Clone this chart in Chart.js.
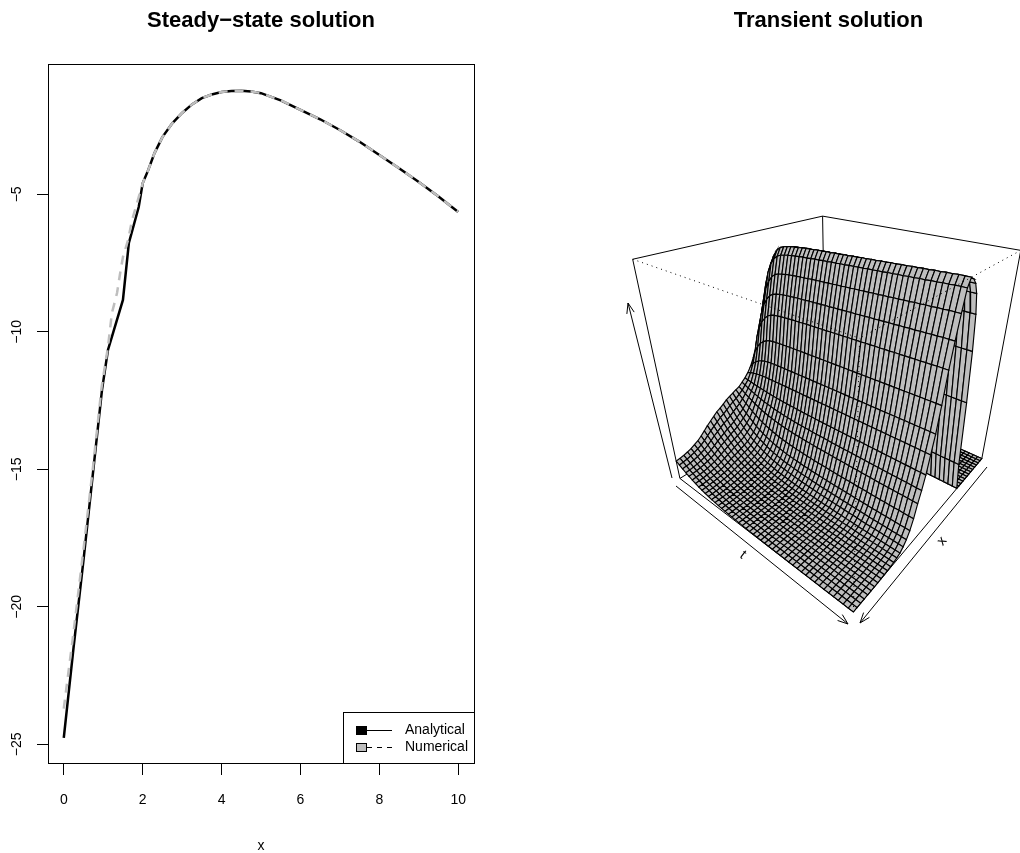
<!DOCTYPE html>
<html>
<head>
<meta charset="utf-8">
<title>Steady-state and transient solution</title>
<script src="https://cdn.jsdelivr.net/npm/chart.js@4/dist/chart.umd.min.js"></script>
<style>
    html, body { margin: 0; background: #fff; overflow: hidden; width: 1020px; height: 853px; }
    canvas { position: absolute; top: 0; }
    #chart-steady { left: 0; }
    #chart-transient { left: 620px; }
</style>
</head>
<body>
<canvas id="chart-steady" width="522" height="853"></canvas>
<canvas id="chart-transient" width="417" height="853"></canvas>
<script>
const steadyTitle = 'Steady\u2212state solution';
const transientTitle = 'Transient solution';
const legendLabels = ['Analytical', 'Numerical'];

const xTicks = [0, 2, 4, 6, 8, 10];
const yTicks = [-25, -20, -15, -10, -5];

const analyticalX = [0, 0.25, 0.5, 0.75, 0.97, 1.12, 1.25, 1.5, 1.65, 1.9, 2, 2.14, 2.3, 2.5, 2.75, 3, 3.25, 3.5, 3.75, 4, 4.25, 4.5, 4.75, 5, 5.5, 6, 6.5, 7, 7.5, 8, 8.5, 9, 9.5, 10];
const analyticalY = [-24.77, -21.46, -18.3, -15, -12.1, -10.66, -10.04, -8.84, -6.77, -5.46, -4.6, -4.12, -3.5, -2.92, -2.42, -2.04, -1.73, -1.5, -1.37, -1.28, -1.24, -1.23, -1.26, -1.32, -1.58, -1.93, -2.27, -2.66, -3.09, -3.57, -4.05, -4.55, -5.08, -5.64];
const numericalX = [0, 0.25, 0.5, 0.75, 0.96, 1.12, 1.22, 1.35, 1.43, 1.5, 1.63, 1.73, 1.88, 2, 2.14, 2.3, 2.5, 2.75, 3, 3.25, 3.5, 3.75, 4, 4.25, 4.5, 4.75, 5, 5.5, 6, 6.5, 7, 7.5, 8, 8.5, 9, 9.5, 10];
const numericalY = [-23.7, -20.9, -17.9, -14.8, -12, -10.55, -9.32, -8.59, -7.86, -7.28, -6.66, -5.94, -5.2, -4.6, -4.12, -3.5, -2.92, -2.42, -2.04, -1.73, -1.5, -1.37, -1.28, -1.24, -1.23, -1.26, -1.32, -1.58, -1.93, -2.27, -2.66, -3.09, -3.57, -4.05, -4.55, -5.08, -5.64];

const startProfile = [0, 0, 0, 0, 0, 0, 0, 0, 0, 0, 0, 0.005, 0.08, 0.45, 0.78, 0.87, 0.86, 0.82, 0.775, 0.725, 0.675, 0.63, 0.585, 0.535, 0.495, 0.46, 0.415, 0.38, 0.355, 0.335, 0.32, 0.305, 0.297, 0.288, 0.28, 0.27, 0.257, 0.245, 0.235, 0.22, 0.205, 0.19, 0.172, 0.155, 0.14, 0.13, 0.12, 0.113, 0.107, 0.103, 0.1];
const endProfile = [0, 0, 0, 0, 0, 0, 0, 0, 0, 0, 0, 0, 0, 0.002, 0.15, 0.47, 0.7, 0.85, 0.93, 0.97, 0.99, 1, 0.97, 0.89, 0.8, 0.7, 0.57, 0.46, 0.38, 0.3, 0.24, 0.19, 0.13, 0.085, 0.055, 0.035, 0.02, 0.013, 0.008, 0.005, 0.003, 0.002, 0.001, 0, 0, 0, 0, 0, 0, 0, 0];
// how far each t line has moved from the start shape to the end shape, rising part and falling part
const riseSettling = [0, 0.3, 0.5, 0.65, 0.75, 0.82, 0.86, 0.88, 0.89, 0.9, 0.905, 0.91, 0.915, 0.92, 0.92, 0.925, 0.93, 0.93, 0.935, 0.935, 0.94, 0.94, 0.945, 0.945, 0.95, 0.95, 0.955, 0.955, 0.96, 0.96, 0.965, 0.965, 0.97, 0.97, 0.975, 0.975, 0.98, 0.98, 0.985, 0.985, 0.99, 0.99, 0.995, 0.995, 1, 1, 1];
const fallSettling = [0, 0.1, 0.2, 0.3, 0.38, 0.46, 0.53, 0.6, 0.65, 0.7, 0.74, 0.78, 0.81, 0.84, 0.86, 0.88, 0.9, 0.91, 0.92, 0.93, 0.94, 0.95, 0.955, 0.96, 0.965, 0.97, 0.975, 0.98, 0.98, 0.985, 0.985, 0.99, 0.99, 0.99, 0.995, 0.995, 0.995, 1, 1, 1, 1, 1, 1, 1, 1, 1, 1];

// where the box corners land on the page: [t, x, z, pageX, pageY]
const cameraAnchors = [
    [0, 1, 0, 680, 478],
    [1, 1, 0, 853, 612],
    [1, 0, 0, 982, 459],
    [0, 1, 1, 632, 260],
    [0, 0, 1, 823, 216],
    [1, 0, 1, 1020, 250],
    [1, 1, 1, 861, 338],
];

const FONT = '"Liberation Sans", Arial, sans-serif';
const TITLE_FONT = { family: FONT, size: 22, weight: 'bold', lineHeight: 1.2 };
const TITLE_PADDING = { top: 8, bottom: 29.6 };

Chart.defaults.color = '#000';
Chart.defaults.animation = false;

function solveCamera(anchors) {
    // least squares for the 3x4 projection, last entry fixed to 1
    const rows = [];
    const rhs = [];
    anchors.forEach(([a, b, c, u, v]) => {
        rows.push([a, b, c, 1, 0, 0, 0, 0, -u * a, -u * b, -u * c]); rhs.push(u);
        rows.push([0, 0, 0, 0, a, b, c, 1, -v * a, -v * b, -v * c]); rhs.push(v);
    });
    const n = 11;
    const m = [];
    for (let i = 0; i < n; i++) {
        m[i] = [];
        for (let j = 0; j < n; j++) m[i][j] = rows.reduce((s, r) => s + r[i] * r[j], 0);
        m[i][n] = rows.reduce((s, r, k) => s + r[i] * rhs[k], 0);
    }
    for (let i = 0; i < n; i++) {
        let p = i;
        for (let k = i + 1; k < n; k++) if (Math.abs(m[k][i]) > Math.abs(m[p][i])) p = k;
        [m[i], m[p]] = [m[p], m[i]];
        for (let k = 0; k < n; k++) {
            if (k === i) continue;
            const f = m[k][i] / m[i][i];
            for (let j = i; j <= n; j++) m[k][j] -= f * m[i][j];
        }
    }
    return m.map((r, i) => r[n] / r[i]);
}

const cam = solveCamera(cameraAnchors);

function project(a, b, c) {
    const w = cam[8] * a + cam[9] * b + cam[10] * c + 1;
    return {
        x: (cam[0] * a + cam[1] * b + cam[2] * c + cam[3]) / w,
        y: (cam[4] * a + cam[5] * b + cam[6] * c + cam[7]) / w,
    };
}

function surfacePoint(i, j) {
    const from = startProfile[i];
    const to = endProfile[i];
    const w = to > from ? riseSettling[j] : fallSettling[j];
    return project(j / (riseSettling.length - 1), i / (startProfile.length - 1), from + (to - from) * w);
}

function edge(from, to, dotted) {
    return {
        data: [project(...from), project(...to)],
        showLine: true,
        pointRadius: 0,
        borderColor: '#000',
        borderWidth: 1,
        borderDash: dotted ? [1, 4] : [],
        fill: false,
    };
}

// Chart.js paints the first dataset last, so this list runs nearest to farthest
function buildTransientDatasets() {
    const front = [
        edge([0, 1, 1], [1, 1, 1], true),
        edge([1, 0, 1], [1, 1, 1], true),
        edge([1, 1, 0], [1, 1, 1], true),
        edge([0, 1, 0], [1, 1, 0]),
        edge([1, 0, 0], [1, 1, 0]),
    ];
    const cells = [];
    for (let j = 0; j < riseSettling.length - 1; j++) {
        for (let i = 0; i < startProfile.length - 1; i++) {
            const first = surfacePoint(i, j);
            cells.push({
                data: [first, surfacePoint(i + 1, j), surfacePoint(i + 1, j + 1), surfacePoint(i, j + 1), first],
                showLine: true,
                pointRadius: 0,
                borderColor: '#000',
                borderWidth: 1.15,
                backgroundColor: '#bebebe',
                fill: 'shape',
            });
        }
    }
    cells.reverse();
    const back = [
        edge([0, 1, 0], [0, 1, 1]),
        edge([0, 1, 1], [0, 0, 1]),
        edge([0, 0, 1], [1, 0, 1]),
        edge([1, 0, 1], [1, 0, 0]),
        edge([0, 0, 0], [0, 0, 1]),
        edge([0, 0, 0], [0, 1, 0]),
        edge([0, 0, 0], [1, 0, 0]),
    ];
    return [...front, ...cells, ...back];
}

const rotatedTicksPlugin = {
    id: 'rotatedTicks',
    afterDraw(chart) {
        const { ctx, scales: { y } } = chart;
        ctx.save();
        ctx.font = `14px ${FONT}`;
        ctx.fillStyle = '#000';
        ctx.textAlign = 'center';
        ctx.textBaseline = 'middle';
        yTicks.forEach(v => {
            ctx.save();
            ctx.translate(17, y.getPixelForValue(v));
            ctx.rotate(-Math.PI / 2);
            ctx.fillText(String(v).replace('-', '\u2212'), 0, 0);
            ctx.restore();
        });
        ctx.restore();
    },
};

const plotBoxPlugin = {
    id: 'plotBox',
    afterDraw(chart) {
        const { ctx, chartArea: a } = chart;
        ctx.save();
        ctx.strokeStyle = '#000';
        ctx.lineWidth = 1;
        ctx.strokeRect(a.left + 0.5, a.top + 0.5, a.right - a.left, a.bottom - a.top);
        ctx.restore();
    },
};

const steadyLegendPlugin = {
    id: 'steadyLegend',
    afterDraw(chart) {
        const { ctx } = chart;
        ctx.save();
        ctx.fillStyle = '#fff';
        ctx.strokeStyle = '#000';
        ctx.lineWidth = 1;
        ctx.fillRect(343, 712, 131, 51);
        ctx.strokeRect(343.5, 712.5, 131, 51);

        ctx.fillStyle = '#000';
        ctx.fillRect(356, 726, 11, 9);
        ctx.beginPath();
        ctx.moveTo(367, 730.5);
        ctx.lineTo(392, 730.5);
        ctx.stroke();

        ctx.fillStyle = '#bebebe';
        ctx.fillRect(356, 743, 11, 8);
        ctx.strokeRect(356.5, 743.5, 10, 8);
        ctx.setLineDash([5, 5]);
        ctx.beginPath();
        ctx.moveTo(367, 747.5);
        ctx.lineTo(392, 747.5);
        ctx.stroke();
        ctx.setLineDash([]);

        ctx.fillStyle = '#000';
        ctx.font = `14px ${FONT}`;
        ctx.textBaseline = 'middle';
        ctx.fillText(legendLabels[0], 405, 730);
        ctx.fillText(legendLabels[1], 405, 747);
        ctx.restore();
    },
};

function drawArrow(ctx, x, y, from, to) {
    const fx = x.getPixelForValue(from[0]), fy = y.getPixelForValue(from[1]);
    const tx = x.getPixelForValue(to[0]), ty = y.getPixelForValue(to[1]);
    const ang = Math.atan2(ty - fy, tx - fx);
    ctx.beginPath();
    ctx.moveTo(fx, fy);
    ctx.lineTo(tx, ty);
    [-0.35, 0.35].forEach(d => {
        ctx.moveTo(tx, ty);
        ctx.lineTo(tx - 11 * Math.cos(ang + d), ty - 11 * Math.sin(ang + d));
    });
    ctx.stroke();
}

const perspAxesPlugin = {
    id: 'perspAxes',
    afterDraw(chart) {
        const { ctx, scales: { x, y } } = chart;
        ctx.save();
        ctx.strokeStyle = '#000';
        ctx.lineWidth = 1;
        drawArrow(ctx, x, y, [676, 486], [848, 624]);
        drawArrow(ctx, x, y, [987, 467], [860, 623]);
        drawArrow(ctx, x, y, [672, 478], [628, 303]);

        ctx.fillStyle = '#000';
        ctx.font = `14px ${FONT}`;
        ctx.textAlign = 'center';
        ctx.textBaseline = 'middle';
        [['t', 743, 555, 0.66], ['x', 942, 541, -0.88]].forEach(([s, px, py, rot]) => {
            ctx.save();
            ctx.translate(x.getPixelForValue(px), y.getPixelForValue(py));
            ctx.rotate(rot);
            ctx.fillText(s, 0, 0);
            ctx.restore();
        });
        ctx.restore();
    },
};

new Chart(document.getElementById('chart-steady'), {
    type: 'scatter',
    data: {
        datasets: [
            {
                label: legendLabels[1],
                data: numericalX.map((x, i) => ({ x, y: numericalY[i] })),
                showLine: true,
                pointRadius: 0,
                borderColor: '#bebebe',
                borderWidth: 2.5,
                borderDash: [9, 7],
            },
            {
                label: legendLabels[0],
                data: analyticalX.map((x, i) => ({ x, y: analyticalY[i] })),
                showLine: true,
                pointRadius: 0,
                borderColor: '#000',
                borderWidth: 2.5,
            },
        ],
    },
    options: {
        responsive: false,
        layout: { padding: { right: 48 } },
        plugins: {
            legend: { display: false },
            tooltip: { enabled: false },
            title: { display: true, fullSize: false, text: steadyTitle, font: TITLE_FONT, color: '#000', padding: TITLE_PADDING },
        },
        scales: {
            x: {
                min: -0.4,
                max: 10.4,
                afterBuildTicks: s => { s.ticks = xTicks.map(value => ({ value })); },
                afterFit: s => { s.height = 90; },
                grid: { drawOnChartArea: false, tickLength: 12, color: '#000' },
                border: { color: '#000' },
                ticks: { font: { family: FONT, size: 14 }, padding: 17, maxRotation: 0, autoSkip: false, color: '#000' },
                title: { display: true, text: 'x', font: { family: FONT, size: 14, lineHeight: 1 }, padding: 0, color: '#000' },
            },
            y: {
                min: -25.68,
                max: -0.26,
                afterBuildTicks: s => { s.ticks = yTicks.map(value => ({ value })); },
                afterFit: s => { s.width = 48; },
                grid: { drawOnChartArea: false, tickLength: 11, color: '#000' },
                border: { color: '#000' },
                ticks: { display: false },
            },
        },
    },
    plugins: [rotatedTicksPlugin, plotBoxPlugin, steadyLegendPlugin],
});

new Chart(document.getElementById('chart-transient'), {
    type: 'scatter',
    data: { datasets: buildTransientDatasets() },
    options: {
        responsive: false,
        events: [],
        plugins: {
            legend: { display: false },
            tooltip: { enabled: false },
            title: { display: true, text: transientTitle, font: TITLE_FONT, color: '#000', padding: TITLE_PADDING },
        },
        scales: {
            x: { display: false, min: 620, max: 1037 },
            y: { display: false, min: 64, max: 853, reverse: true },
        },
    },
    plugins: [perspAxesPlugin],
});
</script>
</body>
</html>
